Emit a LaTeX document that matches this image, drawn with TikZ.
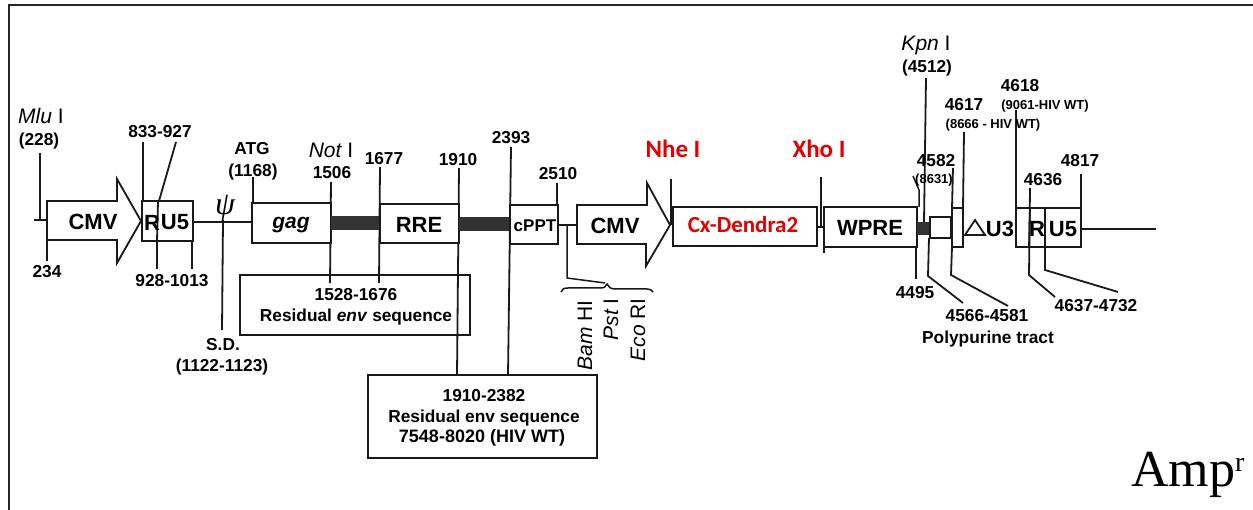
\documentclass[tikz,border=0pt]{standalone}
\usepackage{fontspec}
\setmainfont{Liberation Sans}
\newfontfamily\redfont{Carlito}
\newfontfamily\timesfont{Liberation Serif}
\newcommand{\fs}[1]{\fontsize{#1}{#1}\selectfont}
\tikzset{
  ink/.style={line width=1.8pt,draw=black!90},
  thin ink/.style={line width=1.5pt,draw=black!90},
  boxed/.style={ink,fill=white},
  solidbar/.style={fill=black!80,draw=none},
  lab/.style={inner sep=0pt,font=\bfseries\fs{17.3},text=black},
  small lab/.style={inner sep=0pt,font=\bfseries\fs{13},text=black},
  big lab/.style={inner sep=0pt,font=\bfseries\fs{22},text=black},
  site/.style={inner sep=0pt,font=\itshape\fs{21},text=black},
  redlab/.style={inner sep=0pt,font=\redfont\bfseries\fs{25},text=red!90!black},
}
\begin{document}
\begin{tikzpicture}[x=1pt,y=-1pt]
\useasboundingbox (0,0) rectangle (1253,510);
% frame
\draw[line width=2pt,draw=black!85] (9,510) -- (9,5) -- (1253,5);
% backbone
\draw[ink] (34,220) -- (47,220);
\draw[ink] (193,222) -- (252,222);
\draw[ink] (558,225) -- (577,225);
\draw[ink] (1081,229) -- (1156,229);
% leader lines
\draw[ink] (40,153) -- (40,220);
\draw[ink] (47,240) -- (47,261);
\draw[ink] (143,142) -- (143,201);
\draw[ink] (176,142) -- (159,201);
\draw[ink] (157,241) -- (157,269);
\draw[ink] (192,241) -- (192,269);
\draw[ink] (223,220) -- (222,330);
\draw[ink] (253,177) -- (253,203);
\draw[ink] (331,182) -- (330,283);
\draw[ink] (380,167) -- (379,283);
\draw[ink] (459,168) -- (457,375);
\draw[ink] (511,147) -- (508,375);
\draw[ink] (557,183) -- (557,205);
\draw[thin ink] (567,225) -- (567,278) -- (605,283);
\draw[thin ink] (561,292) .. controls (562,289) and (564,288) .. (568,288) -- (600,288) .. controls (604,288) and (606,287) .. (607,284) .. controls (608,287) and (611,289) .. (615,289) -- (647,289) .. controls (650,289) and (652,290) .. (653,292);
\draw[ink] (671,179) -- (671,225);
\draw[ink] (821,177) -- (821,227);
\draw[ink] (817,227) -- (824,227);
\draw[ink] (824,207) -- (824,253);
\draw[thin ink] (913,176) -- (919,190) -- (919,207);
\draw[ink] (916,247) -- (916,279);
\draw[ink] (926,78) -- (924,222);
\draw[ink] (929,238) -- (928,276) -- (963,303);
\draw[ink] (953,168) -- (952,208);
\draw[ink] (952,247) -- (951,275) -- (1008,306);
\draw[ink] (964,132) -- (963,208);
\draw[ink] (1016,110) -- (1016,208);
\draw[ink] (1030,188) -- (1029,275) -- (1055,297);
\draw[ink] (1045,247) -- (1045,270) -- (1118,292);
\draw[ink] (1081,174) -- (1081,208);
% arrows
\draw[boxed] (47,201) -- (117,201) -- (117,179) -- (141,221) -- (117,263) -- (117,240) -- (47,240) -- cycle;
\draw[boxed] (577,205) -- (647,205) -- (647,183) -- (670,225) -- (646,266) -- (646,244) -- (577,244) -- cycle;
% LTR and element boxes
\draw[ink] (142,201) rectangle (193,241);
\draw[ink] (158,201) -- (157,241);
\draw[boxed] (252,203) rectangle (331,243);
\draw[solidbar] (331,216) rectangle (380,230);
\draw[boxed] (380,204) rectangle (459,243);
\draw[solidbar] (459,217) rectangle (510,231);
\draw[boxed] (510,205) rectangle (558,244);
\draw[ink] (673,207) rectangle (817,246);
\draw[ink] (824,207) rectangle (917,247);
\draw[solidbar] (917,222) rectangle (930,235);
\draw[ink] (930,217) rectangle (951,238);
\draw[ink] (952,208) rectangle (963,247);
\draw[ink] (1016,208) rectangle (1081,247);
\draw[ink] (1030,208) -- (1029,247);
\draw[ink] (1045,208) -- (1045,247);
\draw[ink] (965,235) -- (975,220) -- (985,235) -- cycle;
% lower boxes
\draw[ink] (240,275) rectangle (470,335);
\draw[ink] (368,375) rectangle (597,458);
% texts
\node[site] (mlu) at (41,116) {Mlu {\normalfont I}};
\node[lab] (n228) at (39,141) {(228)};
\node[big lab] (cmva) at (93,222) {CMV};
\node[lab] (n234) at (47,272) {234};
\node[lab] (n833) at (160,132) {833-927};
\node[big lab] (ra) at (152,223) {R};
\node[big lab] (ua) at (175,222) {U5};
\node[lab] (n928) at (172,281) {928-1013};
\node[inner sep=0pt,font=\timesfont\itshape\fs{32}] (psi) at (225,208) {ψ};
\node[lab] (sd) at (223,345) {S.D.};
\node[lab] (n1122) at (222,367) {(1122-1123)};
\node[lab] (atg) at (252,149) {ATG};
\node[lab] (n1168) at (253,172) {(1168)};
\node[big lab,font=\bfseries\itshape\fs{21}] (gag) at (291,225) {gag};
\node[site] (not) at (331,150) {Not {\normalfont I}};
\node[lab] (n1506) at (332,173) {1506};
\node[lab] (n1677) at (384,159) {1677};
\node[big lab] (rre) at (419,225) {RRE};
\node[lab] (n1528) at (356,295) {1528-1676};
\node[lab] (resa) at (356,317) {Residual \textit{env} sequence};
\node[lab] (n1910) at (458,160) {1910};
\node[lab] (n2393) at (511,138) {2393};
\node[lab,font=\bfseries\fs{17}] (cppt) at (535,226) {cPPT};
\node[lab] (n2510) at (558,174) {2510};
\node[big lab] (cmvb) at (615,226) {CMV};
\node[site,rotate=90,anchor=east] (bam) at (585,300) {Bam {\normalfont HI}};
\node[site,rotate=90,anchor=east] (pst) at (611,298) {Pst {\normalfont I}};
\node[site,rotate=90,anchor=east] (eco) at (638,298) {Eco {\normalfont RI}};
\node[lab] (n1910b) at (484,396) {1910-2382};
\node[lab] (resb) at (484,418) {Residual env sequence};
\node[lab,font=\bfseries\fs{18}] (n7548) at (482,438) {7548-8020 (HIV WT)};
\node[redlab] (nhe) at (673,149) {Nhe I};
\node[redlab] (xho) at (819,149) {Xho I};
\node[redlab,font=\redfont\bfseries\fs{23}] (cx) at (743,225) {Cx-Dendra2};
\node[big lab] (wpre) at (870,228) {WPRE};
\node[site] (kpn) at (926,45) {Kpn {\normalfont I}};
\node[lab] (n4512) at (927,68) {(4512)};
\node[lab] (n4582) at (936,161) {4582};
\node[small lab] (n8631) at (934,180) {(8631)};
\node[lab] (n4617) at (964,105) {4617};
\node[small lab] (n8666) at (993,125) {(8666 - HIV WT)};
\node[lab] (n4618) at (1020,86) {4618};
\node[small lab] (n9061) at (1045,106) {(9061-HIV WT)};
\node[big lab] (uc) at (1000,229) {U3};
\node[big lab] (rb) at (1037,229) {R};
\node[big lab] (ub) at (1063,229) {U5};
\node[lab] (n4636) at (1043,180) {4636};
\node[lab] (n4817) at (1080,161) {4817};
\node[lab] (n4495) at (915,293) {4495};
\node[lab] (n4637) at (1096,306) {4637-4732};
\node[lab] (n4566) at (987,316) {4566-4581};
\node[lab] (poly) at (988,339) {Polypurine tract};
\node[inner sep=0pt,anchor=base west,font=\timesfont\fs{52}] (amp) at (1131,486) {Amp\raisebox{15pt}{\fs{28}r}};
\end{tikzpicture}
\end{document}
